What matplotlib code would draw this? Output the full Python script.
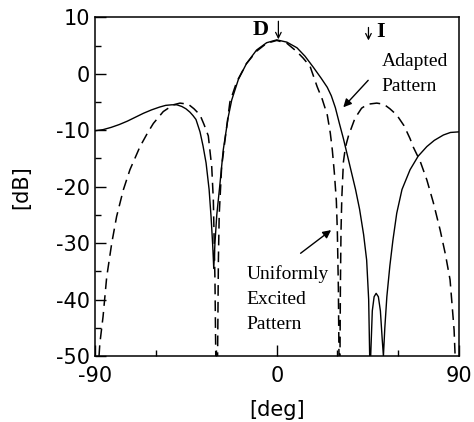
import numpy as np
import matplotlib
matplotlib.use("Agg")
import matplotlib.pyplot as plt

plt.rcParams['axes.unicode_minus'] = False

# adapted pattern (solid)
adapted_deg = [-90, -86, -82, -78, -74, -70, -66, -62, -58, -55, -52, -49.5, -47, -45, -43,
               -41.5, -40, -38, -36.5, -35, -33.5, -32.5, -31.7, -31.2, -30.6, -29.7, -28.1,
               -26.5, -24, -22.3, -19, -15, -10, -5, 0, 5, 10, 14, 18, 22, 25, 27, 29, 31,
               33, 35, 37, 39, 41, 43, 44.5, 45.5, 46, 46.5, 47.3, 48.2, 49.2, 50.3, 51.3,
               52.2, 52.8, 53.5, 54.5, 56, 57.5, 59.4, 62, 66, 70, 74.3, 78, 82.5, 86, 90]
adapted_db = [-10.1, -9.9, -9.5, -9.0, -8.4, -7.7, -7.0, -6.4, -5.9, -5.6, -5.5, -5.5, -5.8,
              -6.2, -6.8, -7.4, -8.1, -10.3, -12.8, -15.8, -20.5, -25.5, -30.5, -34.5, -30,
              -25, -19.4, -13.5, -7.6, -4.65, -1.0, 1.8, 4.2, 5.5, 6.0, 5.6, 4.6, 3.1, 1.2,
              -0.8, -2.4, -3.9, -6.0, -8.8, -11.5, -14.5, -17.5, -20.5, -24, -28.5, -33, -40,
              -50, -50, -42, -39.5, -38.9, -39.5, -42, -47, -50, -45, -39.5, -34, -29.5, -24.7,
              -20.5, -17.0, -14.6, -12.9, -11.8, -10.85, -10.4, -10.3]

# uniformly excited pattern (dashed)
uniform_deg = [-88, -87.6, -86, -84.2, -81.7, -79.3, -76, -72.7, -67.7, -64, -61.1, -56.2,
               -51.2, -47.9, -43.8, -41, -38, -36, -33.9, -32.2, -31.4, -30.6, -30.2,
               -29.3, -28.9, -28.5, -27.3, -24.8, -23.2, -19.8, -15, -10, -5, 0, 5, 10, 13,
               16.5, 20, 22.5, 25, 26.5, 27.5, 28.5, 29.5, 30, 30.5, 30.8,
               31.3, 31.5, 31.8, 32.2, 33, 34, 35.5, 38.7, 42, 45, 49.5, 53, 56, 59.4, 63,
               66, 67.6, 71, 74.3, 77.5, 80.9, 83.5, 85.8, 87.8, 88.3]
uniform_db = [-50, -47.8, -43, -36, -30, -25.3, -20.6, -17, -12.9, -10.5, -8.8, -6.7,
              -5.5, -5.2, -5.4, -6.2, -7.3, -9.0, -11, -16.5, -22.4, -36.5, -50,
              -50, -33, -25, -16.5, -9.4, -5.0, -1.4, 1.8, 4.0, 5.4, 5.9, 5.4, 3.9, 2.8,
              1.3, -2.3, -4.5, -7.3, -10.5, -13.5, -17.5, -22.5, -28, -38, -50,
              -50, -38, -28, -22, -15.6, -13, -11, -7.9, -6.1, -5.4, -5.2, -5.4, -6.2, -7.3,
              -9.2, -11.5, -13, -15.5, -18.8, -22.8, -27.7, -32, -36.5, -45.4, -50]

xticks = [-90, 0, 90]
yticks = [10, 0, -10, -20, -30, -40, -50]

fig = plt.figure(figsize=(4.74, 4.22), dpi=100)
ax = fig.add_axes([0.2004, 0.1564, 0.767, 0.8026])

ax.plot(adapted_deg, adapted_db, color='black', lw=1.0)
line, = ax.plot(uniform_deg, uniform_db, color='black', lw=1.1)
line.set_dashes((7, 4))

ax.set_xlim(-90, 90)
ax.set_ylim(-50, 10)
ax.set_xticks(xticks)
ax.set_xticklabels([str(t) for t in xticks])
ax.set_xticks([-60, -30, 30, 60], minor=True)
ax.set_yticks(yticks)
ax.set_yticklabels([str(t) for t in yticks])
ax.set_yticks(np.arange(-45, 10, 10), minor=True)
ax.tick_params(which='major', direction='in', length=8, width=1, labelsize=15)
ax.tick_params(axis='x', which='major', pad=7)
ax.tick_params(which='minor', direction='in', length=4, width=1)
for s in ax.spines.values():
    s.set_linewidth(1.1)

ax.set_xlabel('[deg]', fontsize=15, labelpad=10)
ax.set_ylabel('[dB]', fontsize=15)
ax.yaxis.set_label_coords(-0.175, 0.5)

# annotations in serif like the original figure
serif = 'Liberation Serif'
arrow = dict(arrowstyle='->', lw=0.9, color='black', shrinkA=0, shrinkB=0)
ax.text(-4.0, 7.8, 'D', fontsize=16, fontweight='bold', family=serif, ha='right', va='center')
ax.annotate('', xy=(0.8, 6.1), xytext=(0.8, 9.3), arrowprops=arrow)
ax.text(49.3, 7.4, 'I', fontsize=16, fontweight='bold', family=serif, ha='left', va='center')
ax.annotate('', xy=(45.4, 5.9), xytext=(45.4, 8.2), arrowprops=arrow)

ax.text(51.9, 3.6, 'Adapted\nPattern', fontsize=14, family=serif, ha='left', va='top',
        linespacing=1.55)
ax.annotate('', xy=(32.0, -6.3), xytext=(46.2, -0.8),
            arrowprops=dict(arrowstyle='-|>', lw=1.0, color='black', mutation_scale=12))

ax.text(-14.9, -33.9, 'Uniformly\nExcited\nPattern', fontsize=14, family=serif,
        ha='left', va='top', linespacing=1.6)
ax.annotate('', xy=(28.0, -27.4), xytext=(10.7, -32.1),
            arrowprops=dict(arrowstyle='-|>', lw=1.0, color='black', mutation_scale=12))

fig.savefig('out.png', dpi=100)
